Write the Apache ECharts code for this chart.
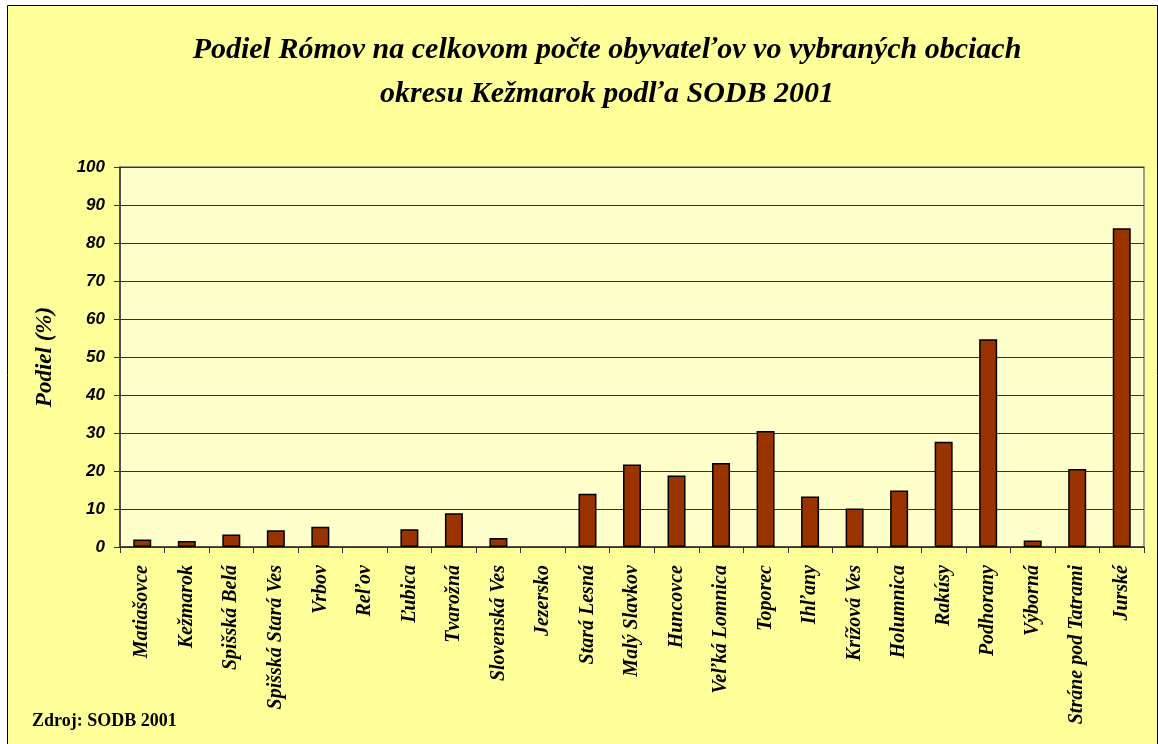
<!DOCTYPE html>
<html>
<head>
<meta charset="utf-8">
<script src="https://cdn.jsdelivr.net/npm/echarts@6/dist/echarts.min.js"></script>
<style>
html,body{margin:0;padding:0;background:#fff;}
#c{width:1158px;height:744px;}
</style>
</head>
<body>
<div id="c"></div>
<script>
const categories = ["Matiašovce","Kežmarok","Spišská Belá","Spišská Stará Ves","Vrbov","Reľov","Ľubica","Tvarožná","Slovenská Ves","Jezersko","Stará Lesná","Malý Slavkov","Huncovce","Veľká Lomnica","Toporec","Ihľany","Krížová Ves","Holumnica","Rakúsy","Podhorany","Výborná","Stráne pod Tatrami","Jurské"];
const values = [2.0,1.6,3.3,4.4,5.3,0,4.7,8.9,2.4,0,14.0,21.7,18.8,22.1,30.5,13.3,10.1,14.9,27.7,54.7,1.7,20.5,83.9];
const titleLines = ["Podiel Rómov na celkovom počte obyvateľov vo vybraných obciach","okresu Kežmarok podľa SODB 2001"];
const yAxisName = "Podiel (%)";
const sourceText = "Zdroj: SODB 2001";

const serif = '"Liberation Serif", "Times New Roman", serif';
const chart = echarts.init(document.getElementById('c'));
chart.setOption({
  backgroundColor: '#ffffff',
  animation: false,
  graphic: [
    {type:'rect', shape:{x:7.5,y:5.5,width:1150,height:740}, style:{fill:'#FFFF99', stroke:'#000', lineWidth:1}, z:-10},
    {type:'text', x:607, y:28, style:{text:titleLines.join('\n'), font:'italic bold 30px ' + serif, fill:'#000', align:'center', verticalAlign:'top', lineHeight:44}},
    {type:'text', left:32, top:712, style:{text:sourceText, font:'bold 18px ' + serif, fill:'#000'}}
  ],
  grid: {left:120, top:167, right:14, bottom:197, show:true, backgroundColor:'#FFFFCC', borderColor:'#808080', borderWidth:1.5},
  xAxis: {
    type:'category', data:categories,
    axisLine:{lineStyle:{color:'#333', width:1.5}},
    axisTick:{show:true, length:6, lineStyle:{color:'#333'}},
    axisLabel:{rotate:90, interval:0, margin:18, color:'#000', fontFamily:serif, fontStyle:'italic', fontWeight:'bold', fontSize:20}
  },
  yAxis: {
    type:'value', min:0, max:100, interval:10,
    name:yAxisName, nameLocation:'middle', nameGap:63, nameRotate:90,
    nameTextStyle:{color:'#000', fontFamily:serif, fontStyle:'italic', fontWeight:'bold', fontSize:23},
    axisLine:{show:true, lineStyle:{color:'#333', width:1.5}},
    axisTick:{show:true, length:6, lineStyle:{color:'#333'}},
    axisLabel:{margin:15, color:'#000', fontFamily:'"Liberation Sans", Arial, sans-serif', fontStyle:'italic', fontWeight:'bold', fontSize:17},
    splitLine:{show:true, lineStyle:{color:'#333', width:1.2}}
  },
  series: [{
    type:'bar', barWidth:18,
    data: values.map(v => v === 0 ? {value:0, itemStyle:{opacity:0}} : v),
    itemStyle:{color:'#993300', borderColor:'#000', borderWidth:1.5}
  }]
});
</script>
</body>
</html>
